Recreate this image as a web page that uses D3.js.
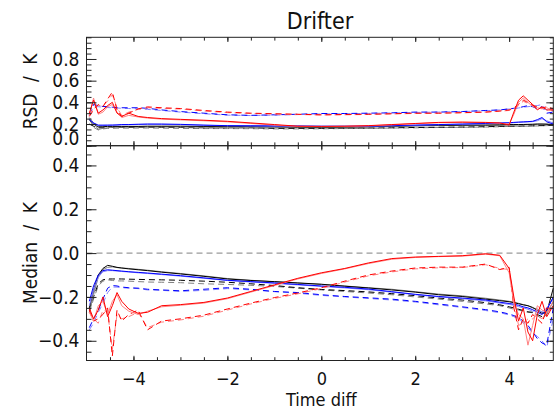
<!DOCTYPE html>
<html>
<head>
<meta charset="utf-8">
<script src="https://cdn.jsdelivr.net/npm/d3@7"></script>
<style>
  body { margin: 0; background: #fff; }
  text { font-family: "DejaVu Sans Condensed", "DejaVu Sans", sans-serif; font-stretch: condensed; fill: #111; }
</style>
</head>
<body>
<div id="chart"></div>
<script>
// time diff sample points (shared by all series)
var timeDiff = [-4.94, -4.85, -4.75, -4.65, -4.55, -4.45, -4.35, -4.25, -4.1, -3.9, -3.7, -3.4, -3.0, -2.5, -2.0, -1.5, -1.0, -0.5, 0,
  0.5, 1.0, 1.5, 2.0, 2.5, 3.0, 3.5, 3.8, 4.0, 4.1, 4.2, 4.3, 4.4, 4.5, 4.6, 4.7, 4.8, 4.94];

// RSD panel
var rsdBlackSolid = [0.24, 0.2, 0.175, 0.175, 0.178, 0.178, 0.178, 0.178, 0.178, 0.178, 0.18, 0.18, 0.18, 0.178, 0.178, 0.176, 0.175, 0.173, 0.172,
  0.173, 0.175, 0.18, 0.185, 0.188, 0.19, 0.19, 0.192, 0.195, 0.195, 0.195, 0.196, 0.197, 0.198, 0.2, 0.2, 0.198, 0.19];
var rsdGraySolid = [0.26, 0.21, 0.15, 0.16, 0.165, 0.17, 0.17, 0.17, 0.172, 0.172, 0.172, 0.174, 0.172, 0.17, 0.168, 0.17, 0.17, 0.168, 0.168,
  0.17, 0.172, 0.178, 0.182, 0.185, 0.188, 0.19, 0.19, 0.19, 0.19, 0.192, 0.193, 0.194, 0.196, 0.198, 0.198, 0.2, 0.2];
var rsdBlueSolid = [0.24, 0.21, 0.19, 0.19, 0.19, 0.19, 0.192, 0.195, 0.195, 0.198, 0.2, 0.2, 0.197, 0.19, 0.185, 0.184, 0.183, 0.182, 0.18,
  0.18, 0.18, 0.185, 0.19, 0.195, 0.2, 0.205, 0.21, 0.212, 0.215, 0.218, 0.22, 0.222, 0.225, 0.24, 0.26, 0.22, 0.2];
var rsdLtBlueSolid = [0.25, 0.2, 0.185, 0.186, 0.188, 0.19, 0.19, 0.192, 0.193, 0.195, 0.197, 0.196, 0.194, 0.188, 0.184, 0.182, 0.18, 0.18, 0.178,
  0.178, 0.179, 0.183, 0.188, 0.193, 0.198, 0.203, 0.207, 0.21, 0.212, 0.215, 0.217, 0.22, 0.222, 0.23, 0.25, 0.23, 0.21];
var rsdBlackDash = [0.2, 0.18, 0.165, 0.165, 0.168, 0.168, 0.168, 0.168, 0.168, 0.17, 0.17, 0.17, 0.168, 0.165, 0.165, 0.165, 0.16, 0.16, 0.16,
  0.162, 0.163, 0.165, 0.168, 0.17, 0.172, 0.175, 0.178, 0.18, 0.18, 0.18, 0.182, 0.182, 0.183, 0.185, 0.185, 0.186, 0.19];
var rsdGrayDash = [0.25, 0.17, 0.145, 0.155, 0.16, 0.16, 0.162, 0.162, 0.162, 0.163, 0.163, 0.162, 0.16, 0.158, 0.158, 0.157, 0.155, 0.155, 0.156,
  0.158, 0.16, 0.163, 0.165, 0.168, 0.17, 0.172, 0.175, 0.178, 0.18, 0.18, 0.18, 0.18, 0.182, 0.182, 0.185, 0.185, 0.188];
var rsdBlueDash = [0.28, 0.38, 0.37, 0.362, 0.36, 0.355, 0.35, 0.35, 0.35, 0.35, 0.345, 0.33, 0.315, 0.3, 0.285, 0.28, 0.285, 0.29, 0.297,
  0.297, 0.3, 0.303, 0.31, 0.31, 0.315, 0.325, 0.33, 0.34, 0.345, 0.35, 0.36, 0.37, 0.36, 0.34, 0.36, 0.3, 0.31];
var rsdLtBlueDash = [0.29, 0.36, 0.36, 0.355, 0.352, 0.35, 0.348, 0.345, 0.343, 0.34, 0.335, 0.325, 0.31, 0.295, 0.282, 0.278, 0.282, 0.287, 0.293,
  0.295, 0.298, 0.302, 0.307, 0.31, 0.315, 0.322, 0.33, 0.338, 0.342, 0.348, 0.355, 0.36, 0.365, 0.37, 0.38, 0.33, 0.32];
var rsdRedSolid = [0.3, 0.42, 0.3, 0.33, 0.37, 0.4, 0.3, 0.27, 0.3, 0.27, 0.26, 0.25, 0.243, 0.235, 0.225, 0.21, 0.195, 0.18, 0.178,
  0.18, 0.185, 0.195, 0.205, 0.215, 0.218, 0.215, 0.21, 0.19, 0.31, 0.42, 0.46, 0.42, 0.38, 0.33, 0.36, 0.33, 0.33];
var rsdLtRedSolid = [0.28, 0.44, 0.29, 0.31, 0.36, 0.38, 0.31, 0.26, 0.28, 0.265, 0.255, 0.245, 0.238, 0.23, 0.22, 0.205, 0.19, 0.178, 0.176,
  0.178, 0.183, 0.192, 0.203, 0.212, 0.215, 0.213, 0.208, 0.2, 0.29, 0.4, 0.44, 0.4, 0.36, 0.35, 0.34, 0.35, 0.32];
var rsdRedDash = [0.27, 0.33, 0.38, 0.36, 0.43, 0.495, 0.33, 0.27, 0.3, 0.34, 0.358, 0.35, 0.343, 0.325, 0.31, 0.3, 0.295, 0.29, 0.285,
  0.288, 0.29, 0.295, 0.3, 0.3, 0.305, 0.31, 0.32, 0.33, 0.35, 0.38, 0.42, 0.4, 0.37, 0.36, 0.345, 0.36, 0.34];
var rsdLtRedDash = [0.28, 0.35, 0.37, 0.37, 0.41, 0.47, 0.35, 0.28, 0.31, 0.335, 0.35, 0.345, 0.338, 0.32, 0.305, 0.297, 0.292, 0.288, 0.283,
  0.285, 0.288, 0.293, 0.297, 0.3, 0.303, 0.31, 0.318, 0.325, 0.34, 0.37, 0.41, 0.39, 0.38, 0.35, 0.35, 0.35, 0.33];

// Median panel
var medBlackSolid = [-0.25, -0.17, -0.10, -0.07, -0.056, -0.06, -0.065, -0.068, -0.072, -0.076, -0.08, -0.087, -0.095, -0.106, -0.118, -0.125, -0.13, -0.136, -0.142,
  -0.151, -0.159, -0.168, -0.178, -0.19, -0.198, -0.21, -0.217, -0.222, -0.226, -0.231, -0.236, -0.24, -0.248, -0.262, -0.275, -0.27, -0.16];
var medGraySolid = [-0.27, -0.19, -0.11, -0.075, -0.065, -0.063, -0.066, -0.068, -0.07, -0.074, -0.078, -0.085, -0.093, -0.104, -0.116, -0.124, -0.131, -0.137, -0.143,
  -0.15, -0.158, -0.165, -0.176, -0.187, -0.195, -0.206, -0.214, -0.22, -0.224, -0.229, -0.235, -0.24, -0.25, -0.255, -0.27, -0.28, -0.22];
var medBlueSolid = [-0.22, -0.15, -0.10, -0.08, -0.076, -0.078, -0.08, -0.082, -0.085, -0.088, -0.091, -0.096, -0.103, -0.113, -0.124, -0.13, -0.136, -0.143, -0.15,
  -0.156, -0.164, -0.176, -0.188, -0.198, -0.205, -0.214, -0.224, -0.23, -0.233, -0.238, -0.245, -0.25, -0.258, -0.27, -0.28, -0.26, -0.2];
var medLtBlueSolid = [-0.24, -0.17, -0.11, -0.085, -0.08, -0.08, -0.082, -0.084, -0.086, -0.09, -0.093, -0.098, -0.105, -0.115, -0.125, -0.132, -0.138, -0.145, -0.152,
  -0.159, -0.167, -0.178, -0.19, -0.2, -0.208, -0.218, -0.228, -0.234, -0.238, -0.244, -0.25, -0.256, -0.265, -0.26, -0.27, -0.25, -0.21];
var medBlackDash = [-0.26, -0.2, -0.14, -0.122, -0.118, -0.118, -0.118, -0.118, -0.119, -0.12, -0.121, -0.122, -0.124, -0.128, -0.133, -0.14, -0.148, -0.158, -0.166,
  -0.171, -0.177, -0.185, -0.194, -0.205, -0.214, -0.226, -0.236, -0.245, -0.25, -0.256, -0.262, -0.268, -0.27, -0.28, -0.29, -0.26, -0.2];
var medGrayDash = [-0.27, -0.21, -0.15, -0.128, -0.122, -0.125, -0.127, -0.127, -0.128, -0.13, -0.132, -0.133, -0.135, -0.14, -0.143, -0.147, -0.152, -0.16, -0.168,
  -0.175, -0.182, -0.19, -0.2, -0.21, -0.22, -0.232, -0.24, -0.25, -0.256, -0.26, -0.265, -0.27, -0.272, -0.285, -0.3, -0.28, -0.24];
var medBlueDash = [-0.34, -0.3, -0.26, -0.21, -0.16, -0.148, -0.15, -0.155, -0.158, -0.16, -0.165, -0.168, -0.172, -0.165, -0.158, -0.165, -0.175, -0.18, -0.19,
  -0.198, -0.204, -0.21, -0.22, -0.232, -0.245, -0.258, -0.268, -0.278, -0.285, -0.295, -0.31, -0.33, -0.36, -0.39, -0.41, -0.42, -0.25];
var medLtBlueDash = [-0.35, -0.32, -0.27, -0.23, -0.18, -0.155, -0.155, -0.158, -0.16, -0.162, -0.168, -0.17, -0.175, -0.17, -0.162, -0.168, -0.176, -0.183, -0.193,
  -0.2, -0.207, -0.214, -0.223, -0.236, -0.248, -0.262, -0.272, -0.282, -0.29, -0.3, -0.318, -0.34, -0.365, -0.38, -0.4, -0.43, -0.3];
var medRedSolid = [-0.25, -0.3, -0.26, -0.2, -0.29, -0.24, -0.18, -0.22, -0.255, -0.275, -0.27, -0.24, -0.235, -0.225, -0.205, -0.175, -0.145, -0.115, -0.09,
  -0.07, -0.045, -0.025, -0.018, -0.015, -0.012, -0.003, -0.01, -0.07, -0.2, -0.31, -0.25, -0.36, -0.4, -0.28, -0.22, -0.29, -0.24];
var medLtRedSolid = [-0.27, -0.31, -0.24, -0.22, -0.28, -0.22, -0.19, -0.24, -0.265, -0.28, -0.265, -0.245, -0.238, -0.228, -0.208, -0.178, -0.148, -0.118, -0.093,
  -0.072, -0.048, -0.028, -0.02, -0.016, -0.014, -0.005, -0.012, -0.09, -0.23, -0.28, -0.3, -0.42, -0.33, -0.24, -0.26, -0.27, -0.22];
var medRedDash = [-0.26, -0.31, -0.3, -0.28, -0.25, -0.47, -0.26, -0.31, -0.28, -0.26, -0.35, -0.31, -0.3, -0.283, -0.255, -0.228, -0.203, -0.182, -0.158,
  -0.128, -0.1, -0.082, -0.068, -0.064, -0.064, -0.05, -0.075, -0.065, -0.25, -0.35, -0.3, -0.32, -0.28, -0.3, -0.32, -0.25, -0.26];
var medLtRedDash = [-0.27, -0.3, -0.32, -0.26, -0.27, -0.44, -0.28, -0.3, -0.29, -0.27, -0.34, -0.315, -0.305, -0.288, -0.26, -0.232, -0.207, -0.186, -0.162,
  -0.132, -0.104, -0.086, -0.072, -0.067, -0.066, -0.053, -0.07, -0.075, -0.22, -0.33, -0.32, -0.3, -0.3, -0.28, -0.3, -0.27, -0.25];

var zeroLine = [0];

var rsdMajor = [0, 0.2, 0.4, 0.6, 0.8];
var rsdMinor = d3.range(0, 1.0001, 0.05);
var medMajor = [-0.4, -0.2, 0, 0.2, 0.4];
var medMinor = d3.range(-0.45, 0.4501, 0.05);
var timeMajor = [-4, -2, 0, 2, 4];
var timeMinor = d3.range(-4.5, 4.501, 0.5);

// set up svg
var svgWidth = 555;
var svgHeight = 410;

var svg = d3.select("#chart")
  .append("svg")
  .attr("width", svgWidth)
  .attr("height", svgHeight);

var x = d3.scaleLinear().domain([-5, 4.94]).range([86.5, 553.3]);
var yTop = d3.scaleLinear().domain([0, 1]).range([145.7, 37.3]);
var yBot = d3.scaleLinear().domain([-0.49, 0.49]).range([360.5, 145.7]);

var BLACK = "#000000", GRAY = "#808080", BLUE = "#0000ff", LTBLUE = "#8080ff", RED = "#ff0000", LTRED = "#ff8080";
var DASH = "6,4";

function styleAxis(g) {
  g.select(".domain").remove();
  g.selectAll(".tick line").attr("stroke", "#222");
  g.attr("font-size", null).attr("font-family", null);
}

function drawPanel(y, series, major, minor, showXLabels) {
  var x0 = x.range()[0], x1 = x.range()[1];
  var yb = y.range()[0], yt = y.range()[1];

  var line = d3.line()
    .x(function (d, i) { return x(timeDiff[i]); })
    .y(function (d) { return y(d); });

  series.forEach(function (s) {
    svg.append("path")
      .datum(s.vals)
      .attr("d", line)
      .attr("fill", "none")
      .attr("stroke", s.color)
      .attr("stroke-width", 1)
      .attr("stroke-dasharray", s.dash ? DASH : null);
  });

  // frame
  svg.append("rect")
    .attr("x", x0).attr("y", yt)
    .attr("width", x1 - x0).attr("height", yb - yt)
    .attr("fill", "none").attr("stroke", "#222").attr("stroke-width", 1);

  // left axis
  var left = svg.append("g").attr("transform", "translate(" + x0 + ",0)")
    .call(d3.axisLeft(y).tickValues(major).tickSize(-10).tickPadding(7).tickFormat(d3.format(".1f")))
    .call(styleAxis);
  left.selectAll("text").style("font-size", "19px");
  svg.append("g").attr("transform", "translate(" + x0 + ",0)")
    .call(d3.axisLeft(y).tickValues(minor).tickSize(-5).tickFormat(""))
    .call(styleAxis);

  // right axis
  svg.append("g").attr("transform", "translate(" + x1 + ",0)")
    .call(d3.axisRight(y).tickValues(major).tickSize(-7).tickFormat(""))
    .call(styleAxis);
  svg.append("g").attr("transform", "translate(" + x1 + ",0)")
    .call(d3.axisRight(y).tickValues(minor).tickSize(-3.5).tickFormat(""))
    .call(styleAxis);

  // bottom axis
  var bottom = svg.append("g").attr("transform", "translate(0," + yb + ")")
    .call(d3.axisBottom(x).tickValues(timeMajor).tickSize(-4.7).tickPadding(11.7)
      .tickFormat(showXLabels ? d3.format("d") : ""))
    .call(styleAxis);
  bottom.selectAll("text").style("font-size", "18px");
  svg.append("g").attr("transform", "translate(0," + yb + ")")
    .call(d3.axisBottom(x).tickValues(timeMinor).tickSize(-3.3).tickFormat(""))
    .call(styleAxis);

  // top axis
  svg.append("g").attr("transform", "translate(0," + yt + ")")
    .call(d3.axisTop(x).tickValues(timeMajor).tickSize(-4.7).tickFormat(""))
    .call(styleAxis);
  svg.append("g").attr("transform", "translate(0," + yt + ")")
    .call(d3.axisTop(x).tickValues(timeMinor).tickSize(-3.3).tickFormat(""))
    .call(styleAxis);

  return left;
}

// RSD panel
var rsdSeries = [
  { vals: rsdGrayDash, color: GRAY, dash: true },
  { vals: rsdBlackDash, color: BLACK, dash: true },
  { vals: rsdGraySolid, color: GRAY, dash: false },
  { vals: rsdBlackSolid, color: BLACK, dash: false },
  { vals: rsdLtBlueDash, color: LTBLUE, dash: true },
  { vals: rsdBlueDash, color: BLUE, dash: true },
  { vals: rsdLtBlueSolid, color: LTBLUE, dash: false },
  { vals: rsdBlueSolid, color: BLUE, dash: false },
  { vals: rsdLtRedDash, color: LTRED, dash: true },
  { vals: rsdRedDash, color: RED, dash: true },
  { vals: rsdLtRedSolid, color: LTRED, dash: false },
  { vals: rsdRedSolid, color: RED, dash: false }
];
var topLeft = drawPanel(yTop, rsdSeries, rsdMajor, rsdMinor, false);
// the 0.0 label sits a little higher, as in the original
topLeft.selectAll(".tick").filter(function (d) { return d === 0; })
  .select("text").attr("y", -7);

// Median panel: zero reference line
svg.selectAll(null)
  .data(zeroLine)
  .enter().append("line")
  .attr("x1", x(-5)).attr("x2", x(4.94))
  .attr("y1", function (d) { return yBot(d); })
  .attr("y2", function (d) { return yBot(d); })
  .attr("stroke", GRAY).attr("stroke-width", 1).attr("stroke-dasharray", DASH);

var medSeries = [
  { vals: medGrayDash, color: GRAY, dash: true },
  { vals: medBlackDash, color: BLACK, dash: true },
  { vals: medGraySolid, color: GRAY, dash: false },
  { vals: medBlackSolid, color: BLACK, dash: false },
  { vals: medLtBlueDash, color: LTBLUE, dash: true },
  { vals: medBlueDash, color: BLUE, dash: true },
  { vals: medLtBlueSolid, color: LTBLUE, dash: false },
  { vals: medBlueSolid, color: BLUE, dash: false },
  { vals: medLtRedDash, color: LTRED, dash: true },
  { vals: medRedDash, color: RED, dash: true },
  { vals: medLtRedSolid, color: LTRED, dash: false },
  { vals: medRedSolid, color: RED, dash: false }
];
drawPanel(yBot, medSeries, medMajor, medMinor, true);

// titles
svg.append("text")
  .attr("x", 320).attr("y", 29)
  .attr("text-anchor", "middle")
  .style("font-size", "23px")
  .text("Drifter");

svg.append("text")
  .attr("transform", "translate(37," + (yTop(0) + yTop(1)) / 2 + ") rotate(-90)")
  .attr("text-anchor", "middle")
  .style("font-size", "19px")
  .style("word-spacing", "6px")
  .text("RSD / K");

svg.append("text")
  .attr("transform", "translate(37," + (yBot.range()[0] + yBot.range()[1]) / 2 + ") rotate(-90)")
  .attr("text-anchor", "middle")
  .style("font-size", "19px")
  .style("word-spacing", "6px")
  .text("Median / K");

svg.append("text")
  .attr("x", x(0)).attr("y", 406)
  .attr("text-anchor", "middle")
  .style("font-size", "18px")
  .text("Time diff");
</script>
</body>
</html>
